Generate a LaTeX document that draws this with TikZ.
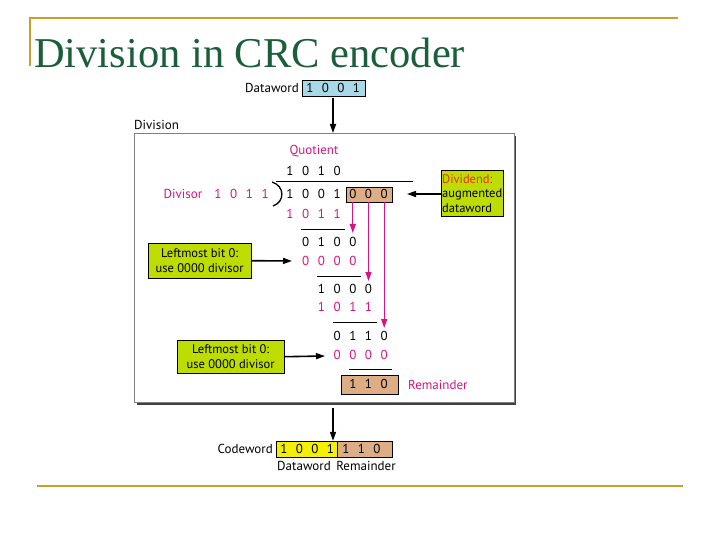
\documentclass[tikz,border=0pt]{standalone}
\usepackage{fontspec}
\setmainfont{PT Sans}
\newfontfamily\titlefont{Liberation Serif}
\usetikzlibrary{arrows.meta}
\definecolor{gold}{HTML}{C8A02A}
\definecolor{titlegreen}{HTML}{1B5E3B}
\definecolor{mag}{HTML}{D4167E}
\definecolor{tan}{HTML}{DDAE86}
\definecolor{lblue}{HTML}{A9D9E6}
\definecolor{ygreen}{HTML}{BEDC00}
\definecolor{cyel}{HTML}{F5F000}
\definecolor{dred}{HTML}{E2351E}
\tikzset{
  txt/.style={inner sep=0pt, font=\fontsize{13}{15}\selectfont},
  dig/.style={txt},
  mdig/.style={txt, text=mag},
  note/.style={draw=black, fill=ygreen, inner sep=0pt, font=\fontsize{12.5}{14.5}\selectfont, align=center},
  blk/.style={-{Triangle[length=9pt,width=6pt]}, line width=1.6pt},
  pink/.style={-{Triangle[length=9pt,width=6pt]}, draw=mag, fill=mag, line width=1.3pt},
  rule/.style={line width=0.7pt}
}
\newcommand{\col}[1]{290+15.7*#1}
\begin{document}
\begin{tikzpicture}[x=1pt,y=-1pt]
\useasboundingbox (0,0) rectangle (720,540);
% slide decoration
\draw[gold, line width=2.5pt] (30,18) -- (678,18);
\draw[gold, line width=2.5pt] (30,17) -- (30,66);
\draw[gold, line width=2.5pt] (37,486) -- (683,486);
\node[anchor=base west, inner sep=0pt, text=titlegreen, font=\titlefont\fontsize{42.5}{46}\selectfont] (title) at (34,68) {Division in CRC encoder};
% dataword input
\node[txt, anchor=east] (dwlbl) at (299,88) {Dataword};
\node[draw=black, fill=lblue, minimum width=63pt, minimum height=16pt, inner sep=0pt, anchor=west] (dwbox) at (302,88) {};
\foreach \d [count=\i from 0] in {1,0,0,1} \node[dig] (dw\i) at ({310+15.5*\i},88) {\d};
\node[txt, anchor=west] (divlbl) at (134,125) {Division};
% main box
\fill[black!75] (137,136) rectangle (516,405);
\node[draw=black!50, fill=white, line width=0.6pt, minimum width=380pt, minimum height=269pt, inner sep=0pt, anchor=north west] (main) at (134,133) {};
\draw[blk] (dwbox.south -| 333,0) ++(0,2) coordinate (a0) -- (main.north -| 333,0);
% quotient
\node[txt, text=mag] (quot) at (314,151) {Quotient};
\foreach \d [count=\i from 0] in {1,0,1,0} \node[dig] (q\i) at ({\col{\i}},171) {\d};
% divisor
\node[txt, text=mag] (divisor) at (183,194) {Divisor};
\foreach \d [count=\i from 0] in {1,0,1,1} \node[mdig] (dv\i) at ({218+15.7*\i},194) {\d};
\coordinate (brt) at (272,182);
\coordinate (brb) at (273,206);
\draw[line width=1.3pt] (brt) .. controls (285,186) and (285,202) .. (brb);
\coordinate (ls) at (276,182);
\coordinate (le) at (413,182);
\draw[line width=1pt] (ls) -- (le);
% dividend
\node[draw=black, fill=tan, minimum width=46pt, minimum height=15pt, inner sep=0pt] (augbox) at (369,194.5) {};
\foreach \d [count=\i from 0] in {1,0,0,1,0,0,0} \node[dig] (r0\i) at ({\col{\i}},194) {\d};
% step 1
\foreach \d [count=\i from 0] in {1,0,1,1} \node[mdig] (s1\i) at ({\col{\i}},214) {\d};
\coordinate (l1a) at (301,229); \coordinate (l1b) at (345,229);
\draw[rule] (l1a) -- (l1b);
\foreach \d [count=\i from 1] in {0,1,0,0} \node[dig] (r1\i) at ({\col{\i}},242) {\d};
\foreach \d [count=\i from 1] in {0,0,0,0} \node[mdig] (s2\i) at ({\col{\i}},261) {\d};
\coordinate (l2a) at (317,276); \coordinate (l2b) at (361,276);
\draw[rule] (l2a) -- (l2b);
\foreach \d [count=\i from 2] in {1,0,0,0} \node[dig] (r2\i) at ({\col{\i}},289) {\d};
\foreach \d [count=\i from 2] in {1,0,1,1} \node[mdig] (s3\i) at ({\col{\i}},307) {\d};
\coordinate (l3a) at (333,322); \coordinate (l3b) at (377,322);
\draw[rule] (l3a) -- (l3b);
\foreach \d [count=\i from 3] in {0,1,1,0} \node[dig] (r3\i) at ({\col{\i}},336) {\d};
\foreach \d [count=\i from 3] in {0,0,0,0} \node[mdig] (s4\i) at ({\col{\i}},355) {\d};
\coordinate (l4a) at (349,369); \coordinate (l4b) at (392,369);
\draw[rule] (l4a) -- (l4b);
\node[draw=black, fill=tan, minimum width=57pt, minimum height=19pt, inner sep=0pt] (rembox) at (369.5,384.5) {};
\foreach \d [count=\i from 4] in {1,1,0} \node[dig] (rm\i) at ({\col{\i}},384) {\d};
\node[txt, text=mag, anchor=west] (remlbl) at (408,385) {Remainder};
% pink arrows
\coordinate (p1) at ({\col{4}},233);
\coordinate (p2) at ({\col{5}},281);
\coordinate (p3) at ({\col{6}},328);
\draw[pink] (augbox.south -| p1) -- (p1);
\draw[pink] (augbox.south -| p2) -- (p2);
\draw[pink] (augbox.south -| p3) -- (p3);
% notes
\node[note, minimum width=62pt, minimum height=46pt, anchor=north west, align=left] (dvnote) at (441,170) {\textcolor{dred}{Dividend:}\\augmented\\dataword};
\coordinate (dvend) at (407,194);
\draw[blk] (dvnote.west |- dvend) -- (dvend);
\node[note, minimum width=103pt, minimum height=35pt, anchor=north west] (n1) at (148,243) {Leftmost bit 0:\\use 0000 divisor};
\coordinate (n1end) at (292,261);
\draw[blk] (n1.east) -- (n1end);
\node[note, minimum width=107pt, minimum height=33pt, anchor=north west] (n2) at (177,340) {Leftmost bit 0:\\use 0000 divisor};
\coordinate (n2end) at (325,356);
\draw[blk] (n2.east) -- (n2end);
% codeword
\node[draw=black, fill=cyel, minimum width=61pt, minimum height=16pt, inner sep=0pt, anchor=west] (cwd) at (276,449) {};
\node[draw=black, fill=tan, minimum width=55pt, minimum height=16pt, inner sep=0pt, anchor=west] (cwr) at (337,449) {};
\draw[blk] (main.south -| 333,0) ++(0,5) coordinate (a1) -- (cwd.north -| 333,0);
\foreach \d [count=\i from 0] in {1,0,0,1,1,1,0} \node[dig] (cw\i) at ({284+15.5*\i},449) {\d};
\node[txt, anchor=east] (cwlbl) at (273,449) {Codeword};
\node[txt] (cwdl) at (304,466) {Dataword};
\node[txt] (cwrl) at (366,466) {Remainder};
\end{tikzpicture}
\end{document}
